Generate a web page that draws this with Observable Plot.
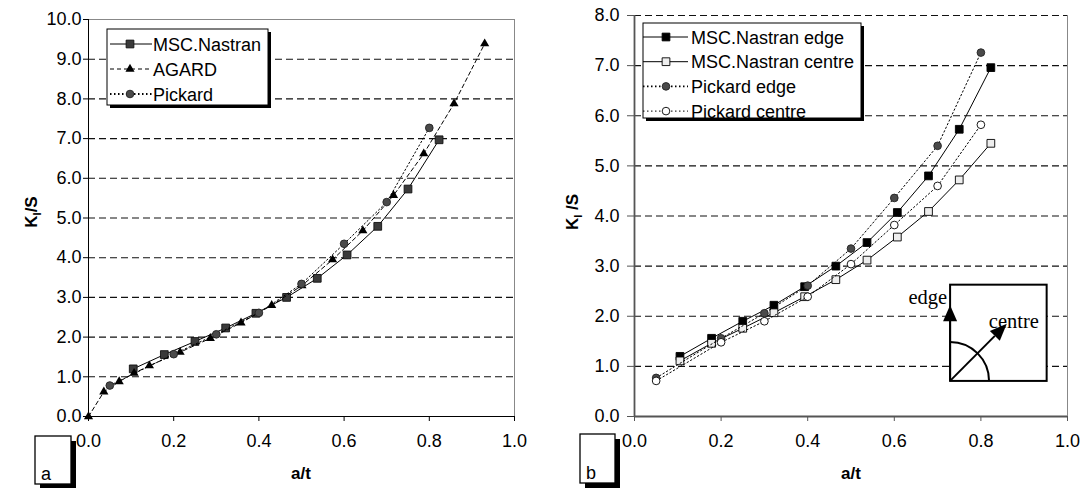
<!DOCTYPE html>
<html><head><meta charset="utf-8">
<script src="https://cdn.jsdelivr.net/npm/d3@7"></script>
<script src="https://cdn.jsdelivr.net/npm/@observablehq/plot@0.6"></script>
<style>
body{margin:0;background:#fff;}
#wrap{display:flex;width:1086px;height:488px;overflow:hidden;}
svg{display:block;}
</style></head><body><div id="wrap"></div>
<script>
// ---------- data ----------
const xTicks = [0, 0.2, 0.4, 0.6, 0.8, 1.0];
const leftYTicks = [0, 1, 2, 3, 4, 5, 6, 7, 8, 9, 10];
const rightYTicks = [0, 1, 2, 3, 4, 5, 6, 7, 8];
const leftGrid = [1, 2, 3, 4, 5, 6, 7, 8, 9];
const rightGrid = [1, 2, 3, 4, 5, 6, 7, 8];

const nastranX = [0.105, 0.178, 0.25, 0.322, 0.393, 0.465, 0.537, 0.607, 0.679, 0.75, 0.823];
const leftNastranY = [1.2, 1.56, 1.89, 2.23, 2.6, 3.0, 3.48, 4.07, 4.79, 5.73, 6.97];
const agardX = [0, 0.036, 0.072, 0.107, 0.143, 0.215, 0.286, 0.358, 0.43, 0.501, 0.573, 0.644, 0.716, 0.787, 0.858, 0.93];
const agardY = [0, 0.62, 0.88, 1.09, 1.28, 1.62, 1.97, 2.36, 2.8, 3.3, 3.95, 4.68, 5.57, 6.62, 7.88, 9.39];
const pickardX = [0.05, 0.2, 0.3, 0.4, 0.5, 0.6, 0.7, 0.8];
const leftPickardY = [0.78, 1.57, 2.07, 2.61, 3.34, 4.35, 5.4, 7.27];

const rightNastranEdgeY = [1.2, 1.56, 1.9, 2.22, 2.59, 3.0, 3.47, 4.07, 4.8, 5.73, 6.96];
const rightNastranCentreY = [1.11, 1.46, 1.76, 2.07, 2.39, 2.73, 3.12, 3.58, 4.09, 4.72, 5.45];
const rightPickardEdgeY = [0.77, 1.56, 2.06, 2.61, 3.35, 4.36, 5.4, 7.26];
const rightPickardCentreY = [0.71, 1.48, 1.9, 2.39, 3.04, 3.82, 4.6, 5.82];

const leftLegendLabels = ["MSC.Nastran", "AGARD", "Pickard"];
const rightLegendLabels = ["MSC.Nastran edge", "MSC.Nastran centre", "Pickard edge", "Pickard centre"];
const panelLabels = ["a", "b"];
const xLabel = "a/t";

// inset sketch (data coordinates of right panel)
const insetBox = {x1: 0.73, x2: 0.953, y1: 0.70, y2: 2.62};
const insetEdgeTip = {x: 0.73, y: 2.21};
const insetCentreTip = {x: 0.861, y: 1.84};
const insetArcR = 0.09; // in x units
const insetTexts = ["edge", "centre"];

// ---------- helpers ----------
const zip = (xs, ys) => xs.map((x, i) => ({x, y: ys[i]}));
const FONT = "'Liberation Sans', Arial, sans-serif";
const SERIF = "'Liberation Serif', 'Times New Roman', serif";
const SYM = {
  square: d3.symbol(d3.symbolSquare, 60),
  circle: d3.symbol(d3.symbolCircle, 46),
  triangle: d3.symbol(d3.symbolTriangle, 36)
};
const R = {square: 4.37, circle: 3.85, triangle: 3.4};

function seriesMarks(s) {
  return [
    Plot.line(s.data, {x: "x", y: "y", stroke: "#000", strokeWidth: 1, strokeDasharray: s.dash}),
    Plot.dot(s.data, {x: "x", y: "y", symbol: s.symbol, r: R[s.symbol], fill: s.fill,
      stroke: s.stroke, strokeWidth: s.stroke === "none" ? 0 : 0.9})
  ];
}

function makePanel(cfg) {
  const marks = [
    Plot.ruleY(cfg.grid, {stroke: cfg.gridColor, strokeDasharray: "7,4", strokeWidth: 1.1}),
    Plot.ruleX([1], {stroke: "#888", strokeWidth: 1}),
    ...cfg.extra,
    Plot.axisY({ticks: cfg.yTicks, tickFormat: d => d.toFixed(1), tickSize: cfg.yTickSize, tickPadding: cfg.yTickPad,
      fontSize: 18, label: null, stroke: cfg.axisColor}),
    Plot.axisX({ticks: xTicks, tickFormat: d => d.toFixed(1), tickSize: 5, tickPadding: 13,
      fontSize: 18, label: null, stroke: cfg.axisColor}),
    Plot.ruleX([0], {stroke: cfg.axisColor, strokeWidth: cfg.axisWidth}),
    Plot.ruleY([0], {stroke: cfg.axisColor, strokeWidth: cfg.axisWidth}),
    ...cfg.series.flatMap(seriesMarks)
  ];
  return Plot.plot({
    width: 543, height: 488,
    marginLeft: cfg.ml, marginRight: cfg.mr, marginTop: cfg.mt, marginBottom: 72,
    x: {domain: [0, 1]}, y: {domain: cfg.yDomain},
    style: {fontFamily: FONT, fontSize: "18px", background: "white", color: "#000", overflow: "visible"},
    marks
  });
}

function shadowBox(parent, x, y, w, h, off, sw) {
  // L-shaped black drop shadow on right and bottom
  parent.append("path")
    .attr("d", `M${x + w},${y + off} H${x + w + off} V${y + h + off} H${x + off} V${y + h} H${x + w} Z`)
    .style("fill", "#000").style("stroke", "none");
  parent.append("rect").attr("x", x).attr("y", y).attr("width", w).attr("height", h)
    .style("fill", "#fff").style("stroke", "#000").style("stroke-width", sw);
}

function decorate(svgNode, cfg) {
  const svg = d3.select(svgNode);
  // y axis title with subscript
  const t = svg.append("text").attr("transform", `translate(${cfg.yTitleX},212) rotate(-90)`)
    .attr("text-anchor", "middle").attr("font-weight", "bold").attr("font-size", 17).attr("font-family", FONT)
    .attr("fill", "#000");
  t.append("tspan").text("K");
  t.append("tspan").attr("font-size", 11).attr("dy", 4).text("I");
  t.append("tspan").attr("dy", -4).text(cfg.ySep + "/S");
  // x axis title
  svg.append("text").attr("x", cfg.xTitleX).attr("y", 479).attr("text-anchor", "middle")
    .attr("font-weight", "bold").attr("font-size", 17).attr("font-family", FONT).attr("fill", "#000").text(xLabel);
  // legend
  const L = cfg.legend;
  const g = svg.append("g").attr("text-anchor", "start");
  shadowBox(g, L.x, L.y, L.w, L.h, 3, 1);
  cfg.series.forEach((s, i) => {
    const cy = L.row0 + i * L.dy;
    g.append("line").attr("x1", L.lx1).attr("x2", L.lx2).attr("y1", cy).attr("y2", cy)
      .attr("stroke", "#000").attr("stroke-width", s.legendWidth || 1).attr("stroke-dasharray", s.dash || null);
    g.append("path").attr("d", SYM[s.symbol]()).attr("transform", `translate(${L.mx},${cy})`)
      .attr("fill", s.fill).attr("stroke", s.stroke).attr("stroke-width", s.stroke === "none" ? 0 : 0.9);
    g.append("text").attr("x", L.tx).attr("y", cy + 6.5).attr("text-anchor", "start")
      .attr("font-size", 18).attr("font-family", FONT).attr("fill", "#000")
      .text(cfg.legendLabels[i]);
  });
  // panel label box
  const B = cfg.box;
  const bg = svg.append("g").attr("text-anchor", "start");
  shadowBox(bg, B.x, B.y, B.w, B.h, 5, 1.3);
  bg.append("text").attr("x", B.x + 6).attr("y", B.y + B.h - 4).attr("text-anchor", "start")
    .attr("font-size", 18).attr("font-family", FONT).attr("fill", "#000").text(B.text);
}

// ---------- left panel ----------
const leftSeries = [
  {data: zip(nastranX, leftNastranY), dash: null, symbol: "square", fill: "#3a3a3a", stroke: "#111"},
  {data: zip(agardX, agardY), dash: "4,3", symbol: "triangle", fill: "#000", stroke: "none"},
  {data: zip(pickardX, leftPickardY), dash: "1.5,2.5", symbol: "circle", fill: "#4a4a4a", stroke: "#222", legendWidth: 1.8}
];
const leftCfg = {
  grid: leftGrid, gridColor: "#111", yTicks: leftYTicks, yDomain: [0, 10], ml: 88, mr: 29, mt: 19,
  yTickSize: 5, yTickPad: 2, axisColor: "#000", axisWidth: 1,
  extra: [Plot.ruleY([10], {stroke: "#888", strokeWidth: 1})],
  series: leftSeries, legendLabels: leftLegendLabels,
  yTitleX: 37, xTitleX: 301, ySep: "",
  legend: {x: 107, y: 29, w: 161, h: 76, row0: 44, dy: 25, lx1: 110, lx2: 152, mx: 130, tx: 153},
  box: {x: 35, y: 436, w: 36, h: 48, text: panelLabels[0]}
};

// ---------- right panel ----------
const rightSeries = [
  {data: zip(nastranX, rightNastranEdgeY), dash: null, symbol: "square", fill: "#000", stroke: "#000"},
  {data: zip(nastranX, rightNastranCentreY), dash: null, symbol: "square", fill: "#eee", stroke: "#000"},
  {data: zip(pickardX, rightPickardEdgeY), dash: "1.5,2.5", symbol: "circle", fill: "#4a4a4a", stroke: "#222", legendWidth: 1.8},
  {data: zip(pickardX, rightPickardCentreY), dash: "1.5,2.5", symbol: "circle", fill: "#fff", stroke: "#000"}
];
const insetMark = (index, {x, y}) => {
  const g = d3.create("svg:g").attr("text-anchor", "start");
  const bx1 = x(insetBox.x1), bx2 = x(insetBox.x2), by1 = y(insetBox.y1), by2 = y(insetBox.y2);
  g.append("rect").attr("x", bx1).attr("y", by2).attr("width", bx2 - bx1).attr("height", by1 - by2)
    .attr("fill", "#fff").attr("stroke", "#000").attr("stroke-width", 2);
  const r = x(insetArcR) - x(0);
  g.append("path").attr("d", `M${bx1 + r},${by1} A${r},${r} 0 0 0 ${bx1},${by1 - r}`)
    .attr("fill", "none").attr("stroke", "#000").attr("stroke-width", 2);
  // edge arrow
  const ex = x(insetEdgeTip.x), ey = y(insetEdgeTip.y);
  g.append("line").attr("x1", bx1).attr("y1", by1).attr("x2", ex).attr("y2", ey + 12).attr("stroke", "#000").attr("stroke-width", 2);
  g.append("path").attr("d", `M${ex},${ey} L${ex - 7},${ey + 16} L${ex + 7},${ey + 16} Z`).attr("fill", "#000");
  // centre arrow
  const cx = x(insetCentreTip.x), cy = y(insetCentreTip.y);
  const ang = Math.atan2(cy - by1, cx - bx1), L = 17, W = 7;
  const bxp = cx - L * Math.cos(ang), byp = cy - L * Math.sin(ang);
  g.append("line").attr("x1", bx1).attr("y1", by1).attr("x2", bxp).attr("y2", byp).attr("stroke", "#000").attr("stroke-width", 2);
  g.append("path").attr("d", `M${cx},${cy} L${bxp - W * Math.sin(ang)},${byp + W * Math.cos(ang)} L${bxp + W * Math.sin(ang)},${byp - W * Math.cos(ang)} Z`).attr("fill", "#000");
  g.append("text").attr("x", bx1 - 3).attr("y", ey - 1).attr("text-anchor", "end")
    .attr("font-family", SERIF).attr("font-size", 20.5).attr("fill", "#000").text(insetTexts[0]);
  g.append("text").attr("x", cx - 18).attr("y", cy + 4).attr("text-anchor", "start")
    .attr("font-family", SERIF).attr("font-size", 20.5).attr("fill", "#000").text(insetTexts[1]);
  return g.node();
};
const rightCfg = {
  grid: rightGrid, gridColor: "#111", yTicks: rightYTicks, yDomain: [0, 8], ml: 91, mr: 19, mt: 15,
  yTickSize: 7, yTickPad: 8, axisColor: "#555", axisWidth: 1.8,
  extra: [insetMark],
  series: rightSeries, legendLabels: rightLegendLabels,
  yTitleX: 35, xTitleX: 308, ySep: " ",
  legend: {x: 100, y: 23, w: 218, h: 95, row0: 37, dy: 24.7, lx1: 100, lx2: 145, mx: 123, tx: 148},
  box: {x: 37, y: 434, w: 35, h: 49, text: panelLabels[1]}
};

const wrap = document.getElementById("wrap");
const left = makePanel(leftCfg);
wrap.appendChild(left);
decorate(left, leftCfg);
const right = makePanel(rightCfg);
wrap.appendChild(right);
decorate(right, rightCfg);
</script>
</body></html>
